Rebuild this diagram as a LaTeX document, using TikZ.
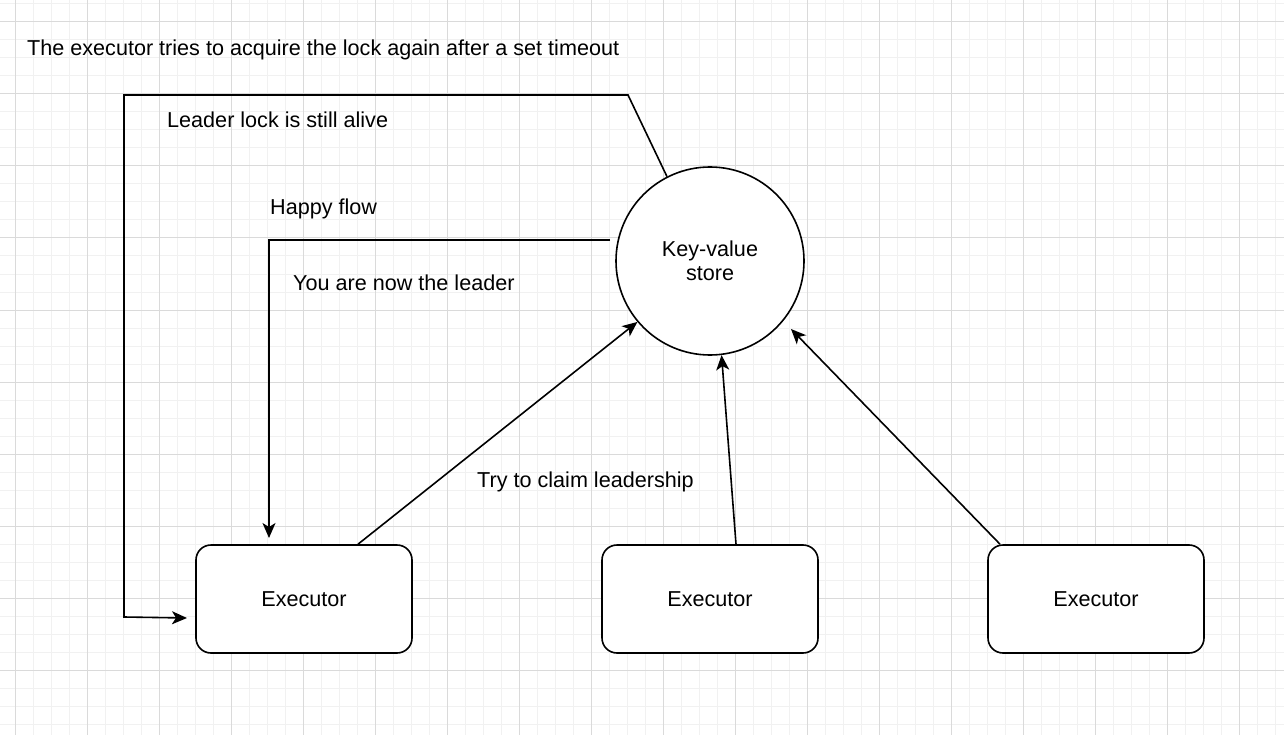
\documentclass[tikz,border=0pt]{standalone}
\usepackage{fontspec}
\setmainfont{Liberation Sans}
\usetikzlibrary{arrows.meta,calc}
\definecolor{minorcol}{HTML}{F1F1F1}
\definecolor{majorcol}{HTML}{DADADA}
\begin{document}
\begin{tikzpicture}[x=1pt,y=-1pt,
  minorgrid/.style={draw=minorcol,line width=1pt},
  majorgrid/.style={draw=majorcol,line width=1pt},
  conn/.style={draw=black,line width=1.6pt,-{Stealth[length=15pt,width=13pt,inset=4pt]}},
  box/.style={draw=black,line width=1.6pt,fill=white,rounded corners=15pt,minimum width=216pt,minimum height=108pt,inner sep=0pt},
  store/.style={draw=black,line width=1.6pt,fill=white,circle,minimum size=188pt,inner sep=0pt,align=center},
  lbl/.style={inner sep=0pt,anchor=base west},
  every node/.style={font=\fontsize{21.6pt}{24pt}\selectfont}]
\useasboundingbox (0,0) rectangle (1284,735);
\fill[white] (0,0) rectangle (1284,735);
% grid
\foreach \x in {-3,15,...,1290} \draw[minorgrid] (\x,0) -- (\x,735);
\foreach \y in {4,22,...,740} \draw[minorgrid] (0,\y) -- (1284,\y);
\foreach \x in {15,87,...,1290} \draw[majorgrid] (\x,0) -- (\x,735);
\foreach \y in {22,94,...,740} \draw[majorgrid] (0,\y) -- (1284,\y);
% nodes
\node[store] (kv) at (710,261) {Key-value\\store};
\node[box] (e1) at (304,599) {Executor};
\node[box] (e2) at (710,599) {Executor};
\node[box] (e3) at (1096,599) {Executor};
% labels
\node[lbl] (ttop) at (27,56) {The executor tries to acquire the lock again after a set timeout};
\node[lbl] (talive) at (167,128) {Leader lock is still alive};
\node[lbl] (thappy) at (270,215) {Happy flow};
\node[lbl] (tleader) at (293,290) {You are now the leader};
\node[lbl] (tclaim) at (477,487) {Try to claim leadership};
% coordinates
\coordinate (c1) at (628,95);
\coordinate (c2) at (124,95);
\coordinate (c3) at (124,617);
\coordinate (loopend) at (187,618);
\coordinate (hfstart) at (610,240);
\coordinate (hfcorner) at (269,240);
\coordinate (hfend) at (269,538);
\coordinate (t3) at (791,329);
% connectors
\draw[conn] (kv.117) -- (c1) -- (c2) -- (c3) -- (loopend);
\draw[conn] (hfstart) -- (hfcorner) -- (hfend);
\draw[conn] ($(e1.north)+(54,0)$) -- (kv.220);
\draw[conn] ($(e2.north)+(26,0)$) -- (kv.277);
\draw[conn] ($(e3.north)+(-96,0)$) -- (t3);
\end{tikzpicture}
\end{document}
